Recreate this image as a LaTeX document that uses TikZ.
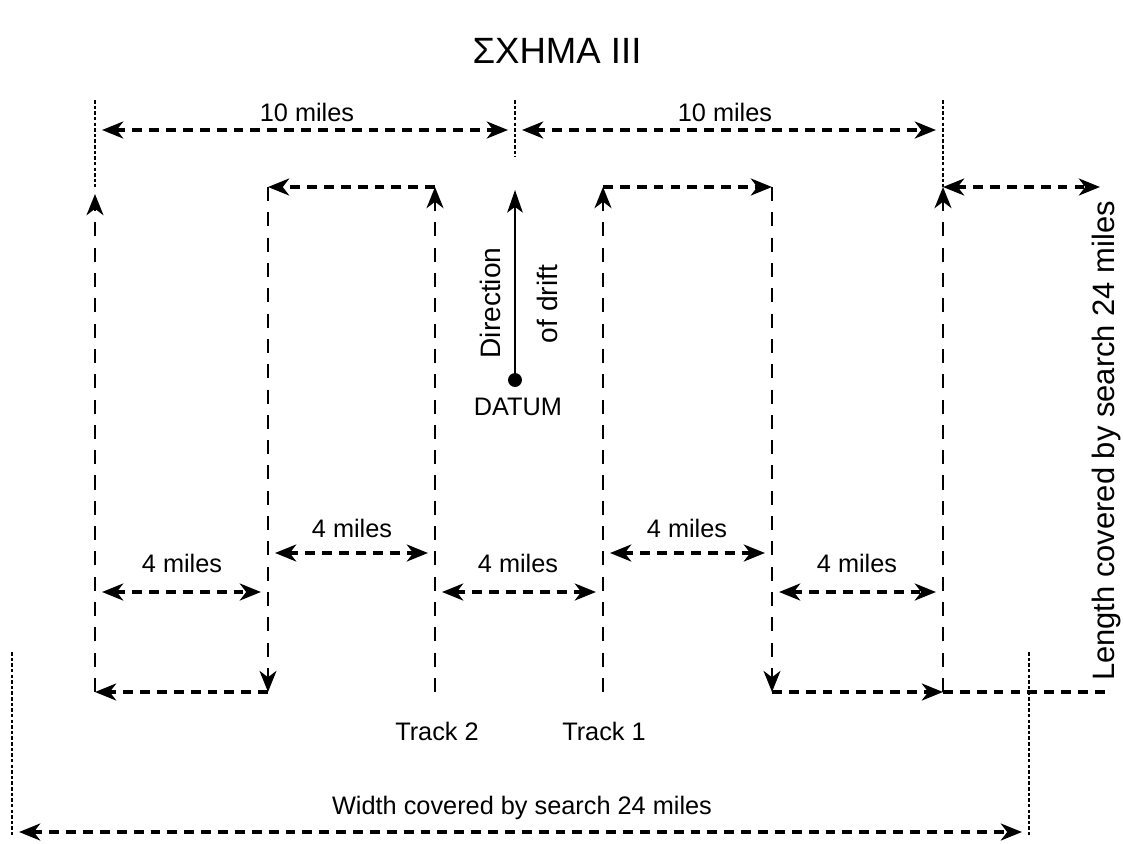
\documentclass[tikz,border=0pt]{standalone}
\usepackage{fontspec}
\setmainfont{Liberation Sans}
\usetikzlibrary{arrows.meta, positioning}

\tikzset{
  arrowend/.style={-{Stealth[length=15pt,width=12pt,inset=4.5pt]}},
  arrowboth/.style={{Stealth[length=15pt,width=12pt,inset=4.5pt]}-{Stealth[length=15pt,width=12pt,inset=4.5pt]}},
  htrack/.style={line width=2.6pt, dash pattern=on 7pt off 5pt},
  vtrack/.style={line width=2pt, dash pattern=on 10pt off 8pt},
  dimline/.style={line width=2.6pt, dash pattern=on 7pt off 5pt, arrowboth, shorten <=5pt, shorten >=5pt},
  extline/.style={line width=1.6pt, dash pattern=on 2.5pt off 1.5pt},
  lbl/.style={font=\fontsize{18}{20}\selectfont, inner sep=1pt},
}

\begin{document}
\begin{tikzpicture}[x=0.025cm, y=-0.025cm]
  \useasboundingbox (0,0) rectangle (1124,843);

  % corners of the tracks
  \foreach \n/\x in {a/95, b/268, c/435, d/603, e/772, f/943} {
    \coordinate (\n-top) at (\x,187);
    \coordinate (\n-bot) at (\x,692);
  }
  \coordinate (len-top) at (1100,187);
  \coordinate (len-bot) at (1107,692);

  \node[font=\fontsize{26}{28}\selectfont] (title) at (557,51) {ΣΧΗΜΑ III};

  % Track 2
  \draw[vtrack, arrowend] (c-bot) -- (c-top);
  \draw[htrack, arrowend] (c-top) -- (b-top);
  \draw[vtrack, arrowend] (b-top) -- (b-bot);
  \draw[htrack, arrowend] (b-bot) -- (a-bot);
  \draw[vtrack, arrowend, shorten >=5pt] (a-bot) -- (a-top);

  % Track 1
  \draw[vtrack, arrowend] (d-bot) -- (d-top);
  \draw[htrack, arrowend] (d-top) -- (e-top);
  \draw[vtrack, arrowend] (e-top) -- (e-bot);
  \draw[htrack, arrowend] (e-bot) -- (f-bot);
  \draw[vtrack, arrowend] (f-bot) -- (f-top);
  \draw[htrack, arrowboth] (f-top) -- (len-top);
  \draw[htrack] (f-bot) -- (len-bot);

  % extension lines
  \draw[extline] (95,100) -- (a-top);
  \draw[extline] (515,100) -- (515,157);
  \draw[extline] (943,100) -- (f-top);
  \draw[extline] (12,652) -- (12,835);
  \draw[extline] (1029,652) -- (1029,835);

  % 10 miles
  \draw[dimline] (95,130) -- (515,130);
  \draw[dimline] (515,130) -- (943,130);
  \node[lbl] (ten1) at (307,112) {10 miles};
  \node[lbl] (ten2) at (725,112) {10 miles};

  % 4 miles
  \draw[dimline] (95,592) -- (268,592);
  \draw[dimline] (268,553) -- (435,553);
  \draw[dimline] (435,592) -- (603,592);
  \draw[dimline] (603,553) -- (772,553);
  \draw[dimline] (772,592) -- (943,592);
  \node[lbl] (four1) at (182,563) {4 miles};
  \node[lbl] (four2) at (352,528) {4 miles};
  \node[lbl] (four3) at (518,563) {4 miles};
  \node[lbl] (four4) at (687,528) {4 miles};
  \node[lbl] (four5) at (857,563) {4 miles};

  % drift
  \node[circle, fill, inner sep=3.5pt] (datum) at (515,380) {};
  \coordinate (drift-tip) at (515,190);
  \draw[line width=1.8pt, -{Stealth[length=16pt,width=11pt,inset=4pt]}] (datum) -- (drift-tip);
  \node[lbl, rotate=90, font=\fontsize{20}{22}\selectfont] (dirlbl) at (490,303) {Direction};
  \node[lbl, rotate=90, font=\fontsize{20}{22}\selectfont] (driftlbl) at (547,304) {of drift};
  \node[lbl] (datumlbl) at (518,407) {DATUM};

  \node[lbl] (track2) at (437,731) {Track 2};
  \node[lbl] (track1) at (604,731) {Track 1};

  % width and length
  \draw[dimline] (12,832) -- (1029,832);
  \node[lbl] (widthlbl) at (522,808) {Width covered by search 24 miles};
  \node[lbl, rotate=90, font=\fontsize{22}{24}\selectfont] (lenlbl) at (1106,441) {Length covered by search 24 miles};
\end{tikzpicture}
\end{document}
